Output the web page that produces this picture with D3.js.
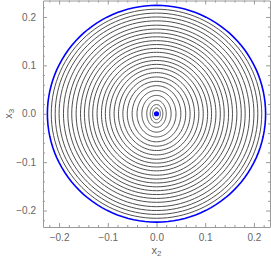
<!DOCTYPE html>
<html>
<head>
<meta charset="utf-8">
<script src="https://cdn.jsdelivr.net/npm/d3@7"></script>
<style>
  body { margin: 0; background: #fff; }
  text { font-family: "Liberation Sans", Arial, sans-serif; }
</style>
</head>
<body>
<div class="canvas"></div>
<script>
// ring half-widths (along x2) and half-heights (along x3), inner to outer
const ringRx = [0.008, 0.013, 0.020, 0.030, 0.040, 0.050, 0.060, 0.069, 0.078, 0.087, 0.096, 0.105, 0.113,
  0.122, 0.131, 0.139, 0.148, 0.156, 0.165, 0.174, 0.182, 0.191, 0.200, 0.208, 0.216];
const ringRy = [0.012, 0.019, 0.028, 0.038, 0.048, 0.058, 0.067, 0.076, 0.085, 0.094, 0.102, 0.110, 0.118,
  0.127, 0.135, 0.143, 0.151, 0.159, 0.167, 0.175, 0.183, 0.192, 0.200, 0.208, 0.216];
// limit cycle and equilibrium point
const limitRadius = [0.224];
const equilibrium = [{ x2: 0, x3: 0 }];
// tick values
const majorTicks = [-0.2, -0.1, 0, 0.1, 0.2];
const minorTicks = d3.range(-22, 23, 2).map(d => d / 100).filter(d => Math.abs(Math.round(d * 100) % 10) !== 0);

const width = 271, height = 262;
const svg = d3.select('.canvas').append('svg')
  .attr('width', width)
  .attr('height', height);

// scales
const x = d3.scaleLinear().domain([-0.233, 0.233]).range([43, 270]);
const y = d3.scaleLinear().domain([-0.234, 0.234]).range([227, 0.5]);

// rings
const ring = (rx, ry) => {
  const pts = d3.range(0, 361, 3).map(a => {
    const t = a * Math.PI / 180;
    return [x(rx * Math.cos(t)), y(ry * Math.sin(t))];
  });
  return d3.line()(pts) + 'Z';
};

svg.append('g')
  .selectAll('path')
  .data(ringRx)
  .join('path')
  .attr('d', (d, i) => ring(d, ringRy[i]))
  .attr('fill', 'none')
  .attr('stroke', '#444')
  .attr('stroke-width', 0.95);

svg.append('g')
  .selectAll('path')
  .data(limitRadius)
  .join('path')
  .attr('d', d => ring(d, d))
  .attr('fill', 'none')
  .attr('stroke', '#0000ff')
  .attr('stroke-width', 1.6);

svg.append('g')
  .selectAll('circle')
  .data(equilibrium)
  .join('circle')
  .attr('cx', d => x(d.x2))
  .attr('cy', d => y(d.x3))
  .attr('r', 2.6)
  .attr('fill', '#0000ff');

// frame with ticks on all sides
const frameColor = '#9a9a9a';
const fmt = d => d === 0 ? '0.0' : d3.format('.1f')(d).replace('-', '\u2212');

const axes = [
  { ax: d3.axisBottom(x), t: `translate(0,${y.range()[0]})`, lab: true },
  { ax: d3.axisTop(x), t: `translate(0,${y.range()[1]})`, lab: false },
  { ax: d3.axisLeft(y), t: `translate(${x.range()[0]},0)`, lab: true },
  { ax: d3.axisRight(y), t: `translate(${x.range()[1]},0)`, lab: false }
];

axes.forEach(a => {
  const g = svg.append('g').attr('transform', a.t);
  g.call(a.ax.tickValues(majorTicks).tickSizeInner(-4).tickSizeOuter(0).tickPadding(7)
    .tickFormat(a.lab ? fmt : ''));
  g.select('.domain').attr('stroke', frameColor);
  g.selectAll('.tick line').attr('stroke', frameColor);
  g.selectAll('.tick text').attr('fill', '#666').attr('font-size', 10);
  const m = svg.append('g').attr('transform', a.t);
  m.call(a.ax.tickValues(minorTicks).tickSizeInner(-2).tickSizeOuter(0).tickFormat(''));
  m.select('.domain').remove();
  m.selectAll('.tick line').attr('stroke', frameColor);
});

// axis titles
svg.append('text')
  .attr('x', x(0))
  .attr('y', 254)
  .attr('text-anchor', 'middle')
  .attr('fill', '#666')
  .attr('font-size', 11)
  .html('x<tspan font-size="8" dy="2">2</tspan>');

svg.append('text')
  .attr('transform', `translate(12,${y(0)}) rotate(-90)`)
  .attr('text-anchor', 'middle')
  .attr('fill', '#666')
  .attr('font-size', 11)
  .html('x<tspan font-size="8" dy="2">3</tspan>');
</script>
</body>
</html>
